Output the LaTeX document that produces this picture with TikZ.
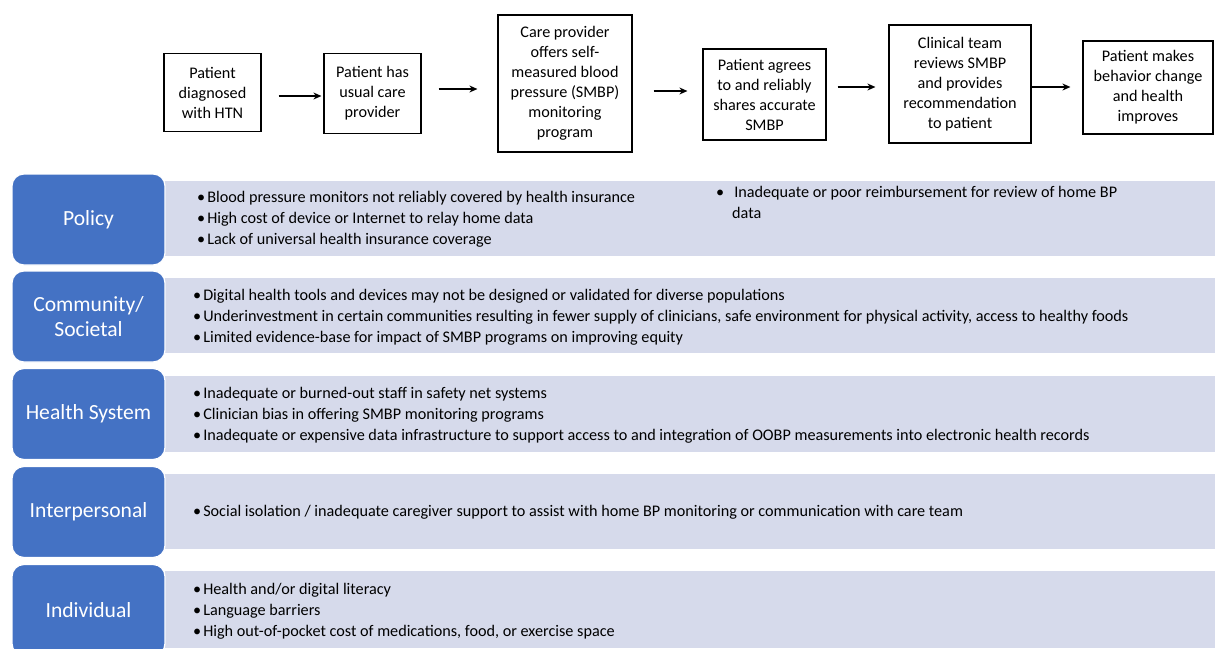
\documentclass[tikz,border=0pt]{standalone}
\usepackage{fontspec}
\setmainfont{Carlito}
\usetikzlibrary{arrows.meta, positioning}

\definecolor{levelblue}{RGB}{68,114,196}
\definecolor{bandgray}{RGB}{214,218,235}
\newcommand{\barbullet}{\textbullet\hspace{2pt}}

\tikzset{
    stepbox/.style={draw, line width=1.2pt, align=center, inner sep=0pt, font=\fontsize{16.2}{20}\selectfont},
    levelbox/.style={fill=levelblue, draw=white, line width=1.2pt, rounded corners=12pt, text=white, align=center, minimum width=153pt, minimum height=91pt, font=\fontsize{21.6}{25}\selectfont},
    barrier/.style={anchor=west, align=left, inner sep=0pt, font=\fontsize{16.2}{21}\selectfont},
    flow/.style={-{Stealth[length=8pt, width=7pt]}, line width=1.2pt},
}

\begin{document}
\begin{tikzpicture}[x=1pt, y=-1pt]
        \useasboundingbox (0,0) rectangle (1215,648);
        \clip (0,0) rectangle (1215,648);

        % pathway steps
        \node[stepbox, minimum width=97pt, minimum height=78pt] (diagnosed) at (212.5,92.5) {Patient\\diagnosed\\with HTN};
        \node[stepbox, minimum width=97pt, minimum height=80pt] (usualcare) at (372.5,93.5) {Patient has\\usual care\\provider};
        \node[stepbox, minimum width=134pt, minimum height=137pt] (offers) at (565,83.5) {Care provider\\offers self-\\measured blood\\pressure (SMBP)\\monitoring\\program};
        \node[stepbox, minimum width=123pt, minimum height=91pt] (shares) at (764.5,94.5) {Patient agrees\\to and reliably\\shares accurate\\SMBP};
        \node[stepbox, minimum width=142pt, minimum height=118pt] (reviews) at (960,84) {Clinical team\\reviews SMBP\\and provides\\recommendation\\to patient};
        \node[stepbox, minimum width=130pt, minimum height=93pt] (improves) at (1148,87.5) {Patient makes\\behavior change\\and health\\improves};

        \draw[flow, shorten <=17pt, shorten >=2pt] (diagnosed.east |- 0,96) -- (usualcare.west |- 0,96);
        \draw[flow, shorten <=17pt, shorten >=20pt] (usualcare.east |- 0,89) -- (offers.west |- 0,89);
        \draw[flow, shorten <=21pt, shorten >=15pt] (offers.east |- 0,91) -- (shares.west |- 0,91);
        \draw[flow, shorten <=11pt, shorten >=13pt] (shares.east |- 0,87) -- (reviews.west |- 0,87);
        \draw[flow, shorten >=12pt] (reviews.east |- 0,87) -- (improves.west |- 0,87);

        % bands
        \fill[bandgray] (165,181) rectangle (1215,256);
        \fill[bandgray] (165,278) rectangle (1215,353);
        \fill[bandgray] (165,376) rectangle (1215,452);
        \fill[bandgray] (165,474) rectangle (1215,549);
        \fill[bandgray] (165,571) rectangle (1215,648);

        % levels
        \node[levelbox] (policy) at (88.5,219.5) {Policy};
        \node[levelbox] (community) at (88.5,316.5) {Community/\\Societal};
        \node[levelbox] (healthsys) at (88.5,414) {Health System};
        \node[levelbox] (interpersonal) at (88.5,512) {Interpersonal};
        \node[levelbox] (individual) at (88.5,610) {Individual};

        % barriers
        \node[barrier] (policyA) at (197,219.5) {\barbullet Blood pressure monitors not reliably covered by health insurance\\\barbullet High cost of device or Internet to relay home data\\\barbullet Lack of universal health insurance coverage};
        \node[barrier] (policyB) at (716,202) {\textbullet\hspace{10pt}Inadequate or poor reimbursement for review of home BP\\\hspace{16pt}data};
        \node[barrier] (communityA) at (193,317.5) {\barbullet Digital health tools and devices may not be designed or validated for diverse populations\\\barbullet Underinvestment in certain communities resulting in fewer supply of clinicians, safe environment for physical activity, access to healthy foods\\\barbullet Limited evidence-base for impact of SMBP programs on improving equity};
        \node[barrier] (healthsysA) at (193,415.5) {\barbullet Inadequate or burned-out staff in safety net systems\\\barbullet Clinician bias in offering SMBP monitoring programs\\\barbullet Inadequate or expensive data infrastructure to support access to and integration of OOBP measurements into electronic health records};
        \node[barrier] (interpersonalA) at (193,512.5) {\barbullet Social isolation / inadequate caregiver support to assist with home BP monitoring or communication with care team};
        \node[barrier] (individualA) at (193,611.5) {\barbullet Health and/or digital literacy\\\barbullet Language barriers\\\barbullet High out-of-pocket cost of medications, food, or exercise space};
\end{tikzpicture}
\end{document}
